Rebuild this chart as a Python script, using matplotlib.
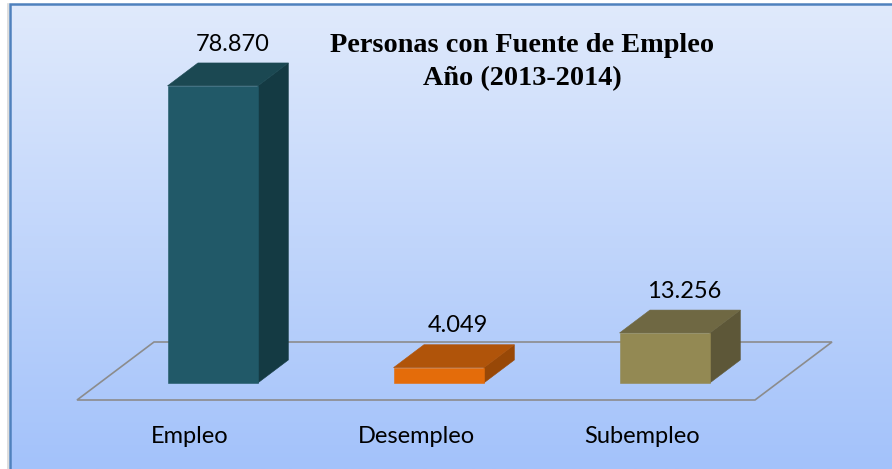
import numpy as np
import matplotlib
matplotlib.use("Agg")
import matplotlib.pyplot as plt
from matplotlib.patches import Polygon

# ---- data ----
categories = ["Empleo", "Desempleo", "Subempleo"]
values = [78870, 4049, 13256]
title_lines = ["Personas con Fuente de Empleo", "Año (2013-2014)"]

front_colors = ["#215968", "#E46C0A", "#938953"]
top_colors = ["#1B4852", "#B0540A", "#6F6843"]
side_colors = ["#143A43", "#984807", "#5D5738"]

# ---- layout (projection) ----
W, H = 892, 469
PX_CAT = 226.0           # px per category
PX_UNIT = 3.766 / 1000   # px per person
FLOOR_X0 = 77.0          # px of front-left floor corner
FLOOR_Y0 = 400.0         # px of front floor edge (from top)
DEPTH_DX_PX, DEPTH_DY_PX = 77.0, 58.0
DX = DEPTH_DX_PX / PX_CAT       # depth shift in category units
DZ = DEPTH_DY_PX / PX_UNIT      # depth shift in value units
BAR_HALF = 0.2
D0, D1 = 0.295, 0.69

fig = plt.figure(figsize=(W / 100, H / 100), dpi=100)
fig.patch.set_facecolor("white")
ax = fig.add_axes([0, 0, 1, 1])
ax.set_xlim(-0.5 - FLOOR_X0 / PX_CAT, -0.5 + (W - FLOOR_X0) / PX_CAT)
ax.set_ylim((FLOOR_Y0 - H) / PX_UNIT, FLOOR_Y0 / PX_UNIT)
ax.axis("off")

# background gradient inside border
top = np.array([224, 234, 252]) / 255
bot = np.array([163, 194, 250]) / 255
t = np.linspace(0, 1, 256)[:, None]
grad = (top[None, :] * (1 - t) + bot[None, :] * t)[:, None, :]
bx0 = 9.5 / W
by1 = 1 - 4.5 / H
ax.imshow(grad, extent=[bx0, 1.0, 0.0, by1], transform=ax.transAxes,
          aspect="auto", zorder=0, interpolation="bilinear")
# faint shadow left of border
ax.plot([bx0 - 1.8 / W, bx0 - 1.8 / W], [0, by1], transform=ax.transAxes,
        color="#D8D8D8", lw=1.2, zorder=1)
# border
ax.plot([bx0, bx0, 1.0], [0, by1, by1], transform=ax.transAxes,
        color="#4F81BD", lw=1.8, zorder=5, solid_joinstyle="miter")


def P(x, d, z):
    return (x + d * DX, z + d * DZ)


# floor
n = len(categories)
floor = [P(-0.5, 0, 0), P(n - 0.5, 0, 0), P(n - 0.5, 1, 0), P(-0.5, 1, 0)]
ax.add_patch(Polygon(floor, closed=True, facecolor="none",
                     edgecolor="#8C8C8C", lw=1.2, zorder=2))

# bars
for i, (v, fc, tc, sc) in enumerate(zip(values, front_colors, top_colors, side_colors)):
    x0, x1 = i - BAR_HALF, i + BAR_HALF
    front = [P(x0, D0, 0), P(x1, D0, 0), P(x1, D0, v), P(x0, D0, v)]
    topf = [P(x0, D0, v), P(x1, D0, v), P(x1, D1, v), P(x0, D1, v)]
    side = [P(x1, D0, 0), P(x1, D1, 0), P(x1, D1, v), P(x1, D0, v)]
    for poly, c in ((side, sc), (topf, tc), (front, fc)):
        ax.add_patch(Polygon(poly, closed=True, facecolor=c, edgecolor=c,
                             lw=0.4, zorder=3))
    lx, _ = P(i, 0.55, v)
    _, ly = P(i, D1, v)
    label = f"{v:,}".replace(",", ".")
    ax.annotate(label, (lx, ly), xytext=(0, 6), textcoords="offset points",
                ha="center", va="bottom", fontsize=17, family="Lato",
                color="black", zorder=4)

# category labels
for i, c in enumerate(categories):
    ax.annotate(c, P(i, 0, 0), xytext=(0, -26), textcoords="offset points",
                ha="center", va="center", fontsize=17, family="Lato",
                color="black", zorder=4)

# title
ax.text(522 / W, 1 - 62 / H, "\n".join(title_lines), transform=ax.transAxes,
        ha="center", va="center", fontsize=20.3, fontweight="bold",
        family="Liberation Serif", linespacing=1.38, zorder=4)

fig.savefig("out.png", dpi=100)
